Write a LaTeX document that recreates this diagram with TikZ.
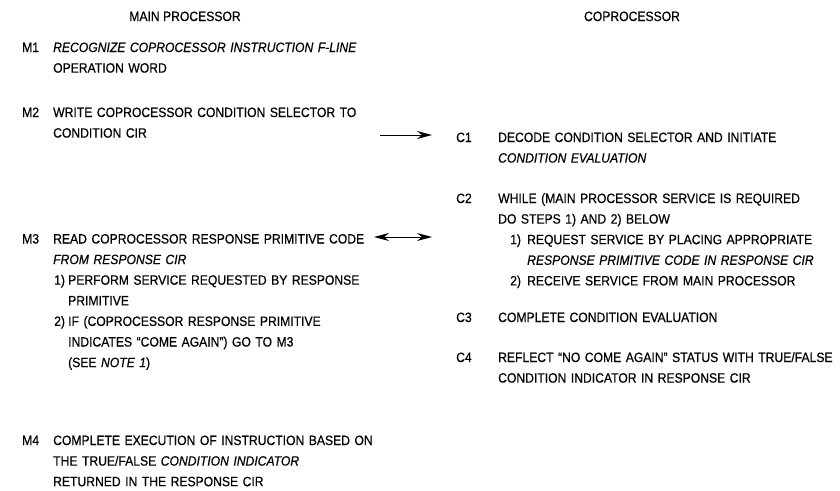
\documentclass[tikz,border=0pt]{standalone}
\usepackage{fontspec}
\setmainfont{Liberation Sans}[FakeStretch=0.9, FakeBold=0.5]
\usepackage{tikz}
\usetikzlibrary{arrows.meta, positioning}
\newcommand\mainfnt{\fontsize{13.5}{20.6}\selectfont}

\begin{document}
\begin{tikzpicture}[
  x=1pt, y=-1pt,
  head/.style={font=\mainfnt, anchor=base, inner sep=0pt},
  steplabel/.style={font=\mainfnt, anchor=base west, inner sep=0pt},
  steptext/.style={font=\mainfnt, anchor=base west, inner sep=0pt, text width=#1, align=left},
  steptext/.default=330pt,
  subnum/.style={font=\mainfnt, anchor=base west, inner sep=0pt},
  arr/.style={-{Stealth[length=15pt, width=8pt]}, line width=1pt},
  darr/.style={{Stealth[length=15pt, width=8pt]}-{Stealth[length=15pt, width=8pt]}, line width=1pt}
]
\path[use as bounding box, fill=white] (0,0) rectangle (840,490);

% Headings
\node[head] (hmain) at (185,21) {MAIN PROCESSOR};
\node[head] (hcop) at (632,21) {COPROCESSOR};

% Main processor
\node[steplabel] (m1) at (22,52) {M1};
\node[steptext] (m1t) at (53,52) {\itshape RECOGNIZE COPROCESSOR INSTRUCTION F-LINE\\ \upshape OPERATION WORD};

\node[steplabel] (m2) at (22,117) {M2};
\node[steptext] (m2t) at (53,117) {WRITE COPROCESSOR CONDITION SELECTOR TO\\ CONDITION CIR};

\node[steplabel] (m3) at (22,243.5) {M3};
\node[steptext] (m3t) at (53,243.5) {READ COPROCESSOR RESPONSE PRIMITIVE CODE\\ \textit{FROM RESPONSE CIR}};
\node[subnum] (m3a) at (54,284.7) {1)};
\node[steptext=300pt] (m3at) at (68,284.7) {PERFORM SERVICE REQUESTED BY RESPONSE\\ PRIMITIVE};
\node[subnum] (m3b) at (54,325.9) {2)};
\node[steptext=300pt] (m3bt) at (68,325.9) {IF (COPROCESSOR RESPONSE PRIMITIVE\\ INDICATES ``COME AGAIN'') GO TO M3\\ (SEE \textit{NOTE 1})};

\node[steplabel] (m4) at (22,445) {M4};
\node[steptext] (m4t) at (53,445) {COMPLETE EXECUTION OF INSTRUCTION BASED ON\\ THE TRUE/FALSE \textit{CONDITION INDICATOR}\\ RETURNED IN THE RESPONSE CIR};

% Coprocessor
\node[steplabel] (c1) at (456,142) {C1};
\node[steptext=345pt] (c1t) at (498,142) {DECODE CONDITION SELECTOR AND INITIATE\\ \textit{CONDITION EVALUATION}};

\node[steplabel] (c2) at (456,203) {C2};
\node[steptext=345pt] (c2t) at (498,203) {WHILE (MAIN PROCESSOR SERVICE IS REQUIRED\\ DO STEPS 1) AND 2) BELOW};
\node[subnum] (c2a) at (510,244.2) {1)};
\node[steptext=320pt] (c2at) at (527,244.2) {REQUEST SERVICE BY PLACING APPROPRIATE\\ \textit{RESPONSE PRIMITIVE CODE IN RESPONSE CIR}};
\node[subnum] (c2b) at (510,285.4) {2)};
\node[steptext=320pt] (c2bt) at (527,285.4) {RECEIVE SERVICE FROM MAIN PROCESSOR};

\node[steplabel] (c3) at (456,322) {C3};
\node[steptext=345pt] (c3t) at (498,322) {COMPLETE CONDITION EVALUATION};

\node[steplabel] (c4) at (456,362) {C4};
\node[steptext=345pt] (c4t) at (498,362) {REFLECT ``NO COME AGAIN'' STATUS WITH TRUE/FALSE\\ CONDITION INDICATOR IN RESPONSE CIR};

% Handshake arrows
\coordinate (a1s) at (380,135);
\coordinate (a1e) at (432,135);
\coordinate (a2s) at (374,237);
\coordinate (a2e) at (432,237);
\draw[arr] (a1s) -- (a1e);
\draw[darr] (a2s) -- (a2e);

\end{tikzpicture}
\end{document}
